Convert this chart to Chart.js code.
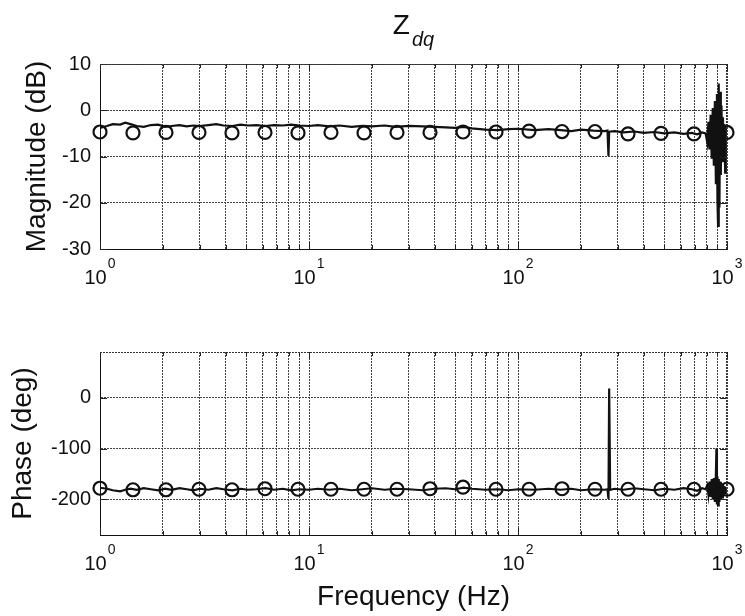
<!DOCTYPE html>
<html>
<head>
<meta charset="utf-8">
<title>Zdq Bode</title>
<script src="https://cdn.jsdelivr.net/npm/chart.js@4.4.1/dist/chart.umd.min.js"></script>
<style>
  html, body { margin: 0; padding: 0; background: #fff; }
  #wrap { position: relative; width: 745px; height: 616px; }
  #wrap canvas { position: absolute; left: 0; }
  #magChart { top: 0; }
  #phaseChart { top: 300px; }
</style>
</head>
<body>
<div id="wrap">
  <canvas id="magChart" width="745" height="300"></canvas>
  <canvas id="phaseChart" width="745" height="316"></canvas>
</div>
<script>
const FONT = '"Liberation Sans", Arial, sans-serif';
const INK  = '#111';
const GRID = '#444';

// measured Zdq response, one frequency axis for both traces (Hz)
const freq = [
  1, 1.08, 1.15, 1.25, 1.32, 1.4, 1.5, 1.62, 1.75, 1.9,
  2.05, 2.2, 2.4, 2.6, 2.8, 3.0, 3.3, 3.6, 3.9, 4.3,
  4.7, 5.1, 5.6, 6.2, 6.8, 7.5, 8.2, 9.0, 10, 11,
  12.5, 14, 16, 18, 20, 23, 26, 30, 35, 40,
  45, 50, 55, 60, 70, 80, 90, 100, 120, 140,
  160, 180, 200, 230, 260, 268, 271, 273, 276, 290,
  320, 360, 400, 450, 500, 560, 620, 680, 720, 760,
  790, 805, 815, 825, 835, 845, 855, 865, 875, 885,
  890, 895, 900, 906, 913, 920, 927, 934, 941, 948,
  956, 964, 972, 980, 988, 994, 1000
];
const magDb = [
  -3.8, -3.4, -3.0, -3.1, -2.7, -3.0, -3.4, -3.6, -3.2, -3.1,
  -3.6, -3.4, -3.2, -3.5, -3.3, -3.4, -3.2, -3.0, -3.3, -3.4,
  -3.1, -3.3, -3.2, -3.4, -3.2, -3.3, -3.1, -3.3, -3.4, -3.2,
  -3.5, -3.3, -3.6, -3.4, -3.5, -3.3, -3.6, -3.4, -3.5, -3.6,
  -3.7, -3.8, -3.6, -3.9, -4.2, -4.3, -4.1, -4.0, -4.3, -4.1,
  -4.3, -4.5, -4.2, -4.4, -4.5, -4.4, -9.9, -4.7, -4.6, -4.5,
  -4.8, -4.6, -4.9, -4.7, -5.0, -4.8, -5.1, -4.9, -5.2, -4.8,
  -5.0, -7.0, -2.5, -8.5, -1.0, -10.5, 0.5, -12.0, 2.0, -16.0,
  -4.0, 3.5, -19.0, -25.0, 5.8, -21.0, 4.0, -14.0, 1.0, -11.0,
  -1.5, -9.0, -3.0, -13.5, -3.5, -6.5, -5.0
];
const phaseDeg = [
  -177, -179, -182, -184, -181, -179, -181, -178, -180, -182,
  -179, -181, -178, -180, -182, -179, -181, -178, -180, -182,
  -179, -181, -180, -178, -181, -179, -182, -180, -181, -179,
  -181, -179, -182, -180, -178, -181, -179, -180, -182, -179,
  -178, -180, -177, -179, -181, -180, -182, -180, -181, -179,
  -181, -179, -182, -180, -181, -180, -199, 18, -181, -179,
  -181, -178, -180, -182, -179, -181, -178, -180, -183, -178,
  -180, -172, -190, -165, -195, -160, -200, -158, -205, -150,
  -100, -210, -155, -212, -160, -205, -165, -200, -168, -196,
  -170, -192, -174, -188, -176, -184, -180
];

// model points (circles)
const markFreq  = [1, 1.438, 2.069, 2.976, 4.281, 6.158, 8.859, 12.74, 18.33, 26.37,
                   37.93, 54.56, 78.48, 112.9, 162.4, 233.6, 336.0, 483.3, 695.2, 1000];
const markMag   = [-4.7, -4.9, -4.8, -4.8, -4.9, -4.8, -4.9, -4.8, -4.9, -4.8,
                   -4.8, -4.7, -4.7, -4.5, -4.6, -4.6, -5.1, -5.0, -5.1, -4.8];
const markPhase = [-178, -181, -181, -180, -181, -179, -180, -180, -180, -180,
                   -179, -176, -180, -180, -179, -180, -180, -180, -180, -180];

// log grid: every 1..9 step of each decade
const gridFreq = [1, 2, 3, 4, 5, 6, 7, 8, 9, 10, 20, 30, 40, 50, 60, 70, 80, 90,
                  100, 200, 300, 400, 500, 600, 700, 800, 900, 1000];
const decadeTicks = [1, 10, 100, 1000];
const decadeExp = ['0', '1', '2', '3'];

const pts = (xs, ys) => xs.map((x, i) => ({ x, y: ys[i] }));

// box outline with short inward ticks
const boxFrame = {
  id: 'boxFrame',
  afterDraw(chart) {
    const { ctx, chartArea: a, scales } = chart;
    ctx.save();
    ctx.strokeStyle = '#222';
    ctx.lineWidth = 1;
    ctx.beginPath();
    scales.x.ticks.forEach(t => {
      const px = Math.round(scales.x.getPixelForValue(t.value)) + 0.5;
      const len = decadeTicks.includes(t.value) ? 7 : 4;
      ctx.moveTo(px, a.top); ctx.lineTo(px, a.top + len);
      ctx.moveTo(px, a.bottom); ctx.lineTo(px, a.bottom - len);
    });
    scales.y.ticks.forEach(t => {
      const py = Math.round(scales.y.getPixelForValue(t.value)) + 0.5;
      ctx.moveTo(a.left, py); ctx.lineTo(a.left + 7, py);
      ctx.moveTo(a.right, py); ctx.lineTo(a.right - 7, py);
    });
    ctx.stroke();
    ctx.setLineDash([2, 1]);
    ctx.strokeStyle = '#333';
    ctx.beginPath();
    ctx.moveTo(a.left, a.top + 0.5); ctx.lineTo(a.right, a.top + 0.5);
    ctx.moveTo(a.right - 0.5, a.top); ctx.lineTo(a.right - 0.5, a.bottom);
    ctx.stroke();
    ctx.restore();
  }
};

// 10^n labels under the log axis
const decadeLabels = {
  id: 'decadeLabels',
  afterDraw(chart) {
    const { ctx, chartArea: a, scales: { x } } = chart;
    ctx.save();
    ctx.fillStyle = INK;
    ctx.textAlign = 'left';
    ctx.textBaseline = 'alphabetic';
    decadeTicks.forEach((v, i) => {
      ctx.font = `20px ${FONT}`;
      const wb = ctx.measureText('10').width;
      ctx.font = `14px ${FONT}`;
      const we = ctx.measureText(decadeExp[i]).width;
      const x0 = x.getPixelForValue(v) - (wb + 1 + we) / 2;
      ctx.font = `20px ${FONT}`;
      ctx.fillText('10', x0, a.bottom + 35);
      ctx.font = `14px ${FONT}`;
      ctx.fillText(decadeExp[i], x0 + wb + 1, a.bottom + 19);
    });
    ctx.restore();
  }
};

// Z with dq subscript over the top plot
const zTitle = {
  id: 'zTitle',
  afterDraw(chart) {
    const { ctx, chartArea: a } = chart;
    ctx.save();
    ctx.fillStyle = INK;
    ctx.textAlign = 'left';
    ctx.font = `28px ${FONT}`;
    const wz = ctx.measureText('Z').width;
    ctx.font = `italic 20px ${FONT}`;
    const ws = ctx.measureText('dq').width;
    const x0 = (a.left + a.right) / 2 - (wz + 2 + ws) / 2;
    ctx.font = `28px ${FONT}`;
    ctx.fillText('Z', x0, 34);
    ctx.font = `italic 20px ${FONT}`;
    ctx.fillText('dq', x0 + wz + 2, 46);
    ctx.restore();
  }
};

function bodeChart(id, o) {
  return new Chart(document.getElementById(id), {
    type: 'line',
    data: {
      datasets: [
        { data: pts(freq, o.trace), borderColor: INK, borderWidth: 2.2,
          pointRadius: 0, tension: 0, order: 2 },
        { data: pts(markFreq, o.marks), showLine: false, clip: false,
          pointStyle: 'circle', pointRadius: 6.5, pointBorderWidth: 2.2,
          pointBorderColor: INK, pointBackgroundColor: 'rgba(0,0,0,0)', order: 1 },
      ]
    },
    options: {
      responsive: false,
      animation: false,
      devicePixelRatio: 1,
      layout: { padding: { top: o.top, right: 18, left: 0, bottom: 0 } },
      plugins: { legend: { display: false }, tooltip: { enabled: false } },
      scales: {
        x: {
          type: 'logarithmic', min: 1, max: 1000,
          afterBuildTicks: s => { s.ticks = gridFreq.map(v => ({ value: v })); },
          afterFit: s => { s.height = o.xHeight; },
          ticks: { display: false, autoSkip: false },
          grid: { color: GRID, lineWidth: 1, drawTicks: false },
          border: { display: true, color: INK, width: 1, dash: [2, 1] },
          title: {
            display: !!o.xTitle, text: o.xTitle || '', color: INK,
            font: { family: FONT, size: 28, lineHeight: 1 },
            padding: { top: 0, bottom: 5 }
          }
        },
        y: {
          min: o.yMin, max: o.yMax,
          afterFit: s => { s.width = 100; },
          ticks: { stepSize: o.yStep, includeBounds: false, color: INK,
                   font: { family: FONT, size: 20 }, padding: 9 },
          grid: { color: GRID, lineWidth: 1, drawTicks: false },
          border: { display: true, color: INK, width: 1, dash: [2, 1] },
          title: {
            display: true, text: o.yTitle, color: INK,
            font: { family: FONT, size: 28, lineHeight: 1 },
            padding: { top: o.yTitlePad, bottom: 0 }
          }
        }
      }
    },
    plugins: [boxFrame, decadeLabels].concat(o.extra || [])
  });
}

bodeChart('magChart', {
  trace: magDb, marks: markMag, top: 64, xHeight: 51,
  yMin: -30, yMax: 10, yStep: 10, yTitle: 'Magnitude (dB)', yTitlePad: 23,
  extra: [zTitle]
});

bodeChart('phaseChart', {
  trace: phaseDeg, marks: markPhase, top: 52, xHeight: 81,
  yMin: -270, yMax: 90, yStep: 100, yTitle: 'Phase (deg)', yTitlePad: 9,
  xTitle: 'Frequency (Hz)'
});
</script>
</body>
</html>
